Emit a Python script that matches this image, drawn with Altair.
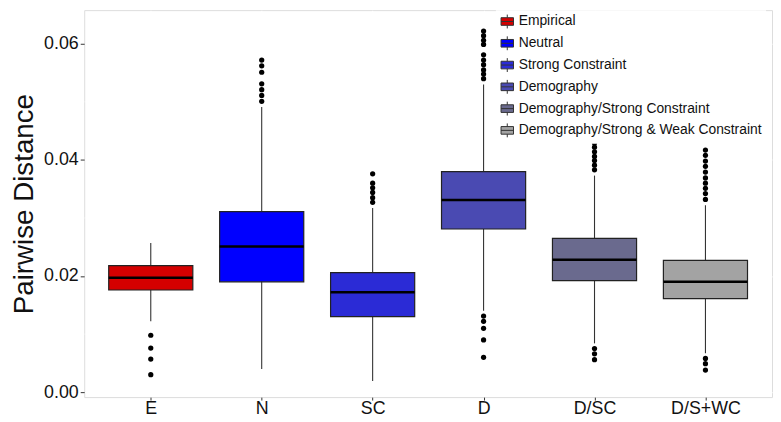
import altair as alt
import pandas as pd

# ---- data ----
cats = ["E", "N", "SC", "D", "D/SC", "D/S+WC"]
names = ["Empirical", "Neutral", "Strong Constraint", "Demography",
         "Demography/Strong Constraint", "Demography/Strong & Weak Constraint"]
colors = ["#D40000", "#0000FF", "#2B2BD6", "#4A4AB2", "#6A6A8E", "#A3A3A3"]

q1 = [0.0176, 0.0190, 0.0130, 0.0281, 0.0192, 0.0161]
median = [0.0197, 0.0251, 0.0172, 0.0331, 0.0228, 0.0190]
q3 = [0.0218, 0.0311, 0.0206, 0.0380, 0.0265, 0.0227]
lower = [0.0122, 0.0040, 0.0019, 0.0140, 0.0084, 0.0067]
upper = [0.0257, 0.0491, 0.0317, 0.0530, 0.0373, 0.0322]

out_E = [0.0098, 0.0076, 0.0057, 0.0030]
out_N = [0.0572, 0.0562, 0.0551, 0.0531, 0.0521, 0.0511, 0.0501]
out_SC = [0.0376, 0.0360, 0.0352, 0.0344, 0.0335, 0.0327]
out_D = [0.0622, 0.0614, 0.0606, 0.0599, 0.0581, 0.0572, 0.0564, 0.0555, 0.0548, 0.0540,
         0.0131, 0.0122, 0.0110, 0.0090, 0.0060]
out_DSC = [0.0429, 0.0422, 0.0414, 0.0406, 0.0399, 0.0391, 0.0383,
           0.0075, 0.0066, 0.0056]
out_DSWC = [0.0445, 0.0417, 0.0408, 0.0398, 0.0389, 0.0379, 0.0369, 0.0360, 0.0351,
            0.0342, 0.0332, 0.0058, 0.0049, 0.0038]
outliers = [out_E, out_N, out_SC, out_D, out_DSC, out_DSWC]

y_ticks = [0.00, 0.02, 0.04, 0.06]
y_minor = [0.01, 0.03, 0.05]
y_domain = [-0.00085, 0.0658]

# ---- tables ----
summary = pd.DataFrame({"cat": cats, "name": names, "q1": q1, "median": median,
                        "q3": q3, "lower": lower, "upper": upper})
out_df = pd.DataFrame([{"cat": c, "v": v} for c, vs in zip(cats, outliers) for v in vs])
minor_df = pd.DataFrame({"m": y_minor})

FONT = "Liberation Sans"
BOXW = 85

xenc = alt.X("cat:N", sort=cats, title=None,
             scale=alt.Scale(type="point", padding=0.6),
             axis=alt.Axis(labelAngle=0, labelFontSize=18, labelColor="#111111",
                           labelFont=FONT, tickSize=3, tickColor="#333333",
                           labelPadding=0, domain=False, grid=True,
                           gridColor="white", gridWidth=1.1))
yscale = alt.Scale(domain=y_domain, nice=False, zero=False)

base = alt.Chart(summary)

minor = alt.Chart(minor_df).mark_rule(color="white", strokeWidth=0.5).encode(
    y=alt.Y("m:Q", scale=yscale))

whisk = base.mark_rule(color="#333333", strokeWidth=1.1).encode(
    x=xenc,
    y=alt.Y("lower:Q", scale=yscale, title="Pairwise Distance",
            axis=alt.Axis(values=y_ticks, format=".2f", labelFontSize=18,
                          labelColor="#111111", labelFont=FONT, tickSize=4,
                          tickColor="#333333", labelPadding=2, domain=False,
                          grid=True, gridColor="white", gridWidth=1.1,
                          titleFontSize=28, titleFont=FONT, titleFontWeight="normal",
                          titleColor="#111111", titlePadding=5)),
    y2="upper:Q")

boxes = base.mark_bar(size=BOXW, stroke="#222222", strokeWidth=1.2, opacity=1).encode(
    x=xenc,
    y=alt.Y("q1:Q", scale=yscale),
    y2="q3:Q",
    color=alt.Color("name:N", sort=names,
                    scale=alt.Scale(domain=names, range=colors),
                    legend=alt.Legend(title=None, orient="none", legendX=416, legendY=0,
                                      fillColor="white", padding=4,
                                      labelFontSize=14, labelFont=FONT,
                                      labelColor="#111111", labelOffset=4,
                                      labelLimit=0,
                                      rowPadding=3, symbolSize=196,
                                      symbolType="M-0.9,-0.55H0.9V0.55H-0.9Z M-0.9,0H0.9 M0,-1V-0.55 M0,0.55V1",
                                      symbolStrokeColor="#333333",
                                      symbolStrokeWidth=1, symbolOpacity=1)))

med = base.mark_tick(size=BOXW, thickness=2.5, color="black", opacity=1).encode(
    x=xenc, y=alt.Y("median:Q", scale=yscale))

pts = alt.Chart(out_df).mark_circle(size=28, color="black", opacity=1).encode(
    x=alt.X("cat:N", sort=cats, scale=alt.Scale(type="point", padding=0.6)),
    y=alt.Y("v:Q", scale=yscale))

chart = alt.layer(minor, whisk, boxes, med, pts).properties(
    width=695, height=391, padding={"left": 2, "top": 0, "right": 0, "bottom": 0}
).configure_view(fill="#EBEBEB", stroke="transparent", strokeWidth=0).configure(background="white")

chart.save("out.html", embed_options={"renderer": "svg", "actions": False})
